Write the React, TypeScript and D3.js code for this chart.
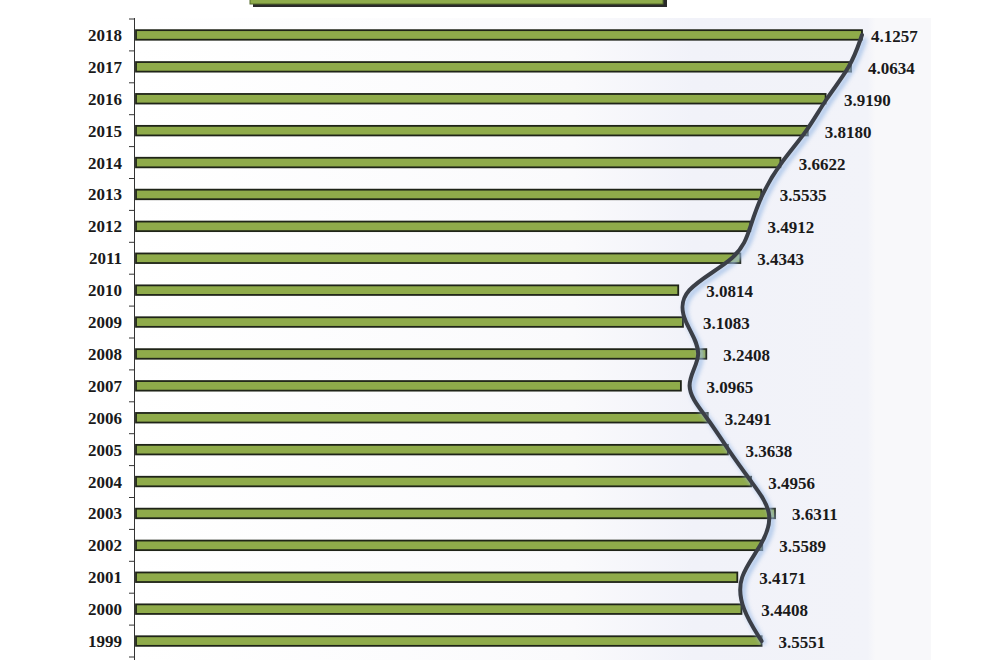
import { useEffect, useRef } from 'react';
import * as d3 from 'd3';

// years, top to bottom as drawn
const years = [
  '2018', '2017', '2016', '2015', '2014', '2013', '2012', '2011', '2010', '2009',
  '2008', '2007', '2006', '2005', '2004', '2003', '2002', '2001', '2000', '1999',
];
const values = [
  4.1257, 4.0634, 3.919, 3.818, 3.6622, 3.5535, 3.4912, 3.4343, 3.0814, 3.1083,
  3.2408, 3.0965, 3.2491, 3.3638, 3.4956, 3.6311, 3.5589, 3.4171, 3.4408, 3.5551,
];

const W = 990;
const H = 660;

export default function App() {
  const svgRef = useRef<SVGSVGElement>(null);

  useEffect(() => {
    if (!svgRef.current) return;
    const svg = d3.select(svgRef.current);
    svg.selectAll('*').remove();

    const data = years.map((y, i) => ({ year: y, value: values[i] }));

    const x = d3.scaleLinear().domain([0, 4.1257]).range([136, 862]);
    const y = d3.scaleBand<string>()
      .domain(years)
      .range([19, 657])
      .paddingInner(0.7)
      .paddingOuter(0.35);
    const cy = (d: string) => (y(d) || 0) + y.bandwidth() / 2;

    const defs = svg.append('defs');
    const bg = defs.append('linearGradient').attr('id', 'bg').attr('x1', 0).attr('x2', 1);
    bg.append('stop').attr('offset', '0%').attr('stop-color', '#ffffff');
    bg.append('stop').attr('offset', '55%').attr('stop-color', '#fafafc');
    bg.append('stop').attr('offset', '70%').attr('stop-color', '#f1f2f9');
    bg.append('stop').attr('offset', '92%').attr('stop-color', '#f2f3f9');
    bg.append('stop').attr('offset', '93%').attr('stop-color', '#f8f8fa');
    bg.append('stop').attr('offset', '100%').attr('stop-color', '#f8f8fa');

    const blur = defs.append('filter').attr('id', 'glow')
      .attr('x', '-20%').attr('y', '-20%').attr('width', '140%').attr('height', '140%');
    blur.append('feGaussianBlur').attr('stdDeviation', 2);

    svg.append('rect').attr('width', W).attr('height', H).attr('fill', '#ffffff');
    svg.append('rect')
      .attr('x', 136).attr('y', 18)
      .attr('width', 795).attr('height', 642)
      .attr('fill', 'url(#bg)');

    // legend box (cut off at top)
    svg.append('rect')
      .attr('x', 253).attr('y', -20).attr('width', 414).attr('height', 27)
      .attr('fill', '#2a2a2a');
    svg.append('rect')
      .attr('x', 250).attr('y', -22).attr('width', 413).attr('height', 26)
      .attr('fill', '#8fac4c').attr('stroke', '#556b2a').attr('stroke-width', 1);

    // axis
    const axis = svg.append('g');
    axis.append('line')
      .attr('x1', 134.5).attr('x2', 134.5).attr('y1', 18).attr('y2', 660)
      .attr('stroke', '#333').attr('stroke-width', 1);
    const edges = [...years.map(d => y(d)! - (y.step() * y.paddingInner()) / 2), 657];
    axis.selectAll('line.tick')
      .data(edges)
      .join('line')
      .attr('class', 'tick')
      .attr('x1', 129).attr('x2', 134.5)
      .attr('y1', d => d).attr('y2', d => d)
      .attr('stroke', '#333').attr('stroke-width', 1);
    axis.selectAll('text')
      .data(years)
      .join('text')
      .attr('x', 122)
      .attr('y', d => cy(d) + 6)
      .attr('text-anchor', 'end')
      .attr('font-family', '"Liberation Serif", "Times New Roman", serif')
      .attr('font-weight', 'bold')
      .attr('font-size', 17)
      .attr('fill', '#1a1a1a')
      .text(d => d);

    // bars
    svg.append('g')
      .selectAll('rect')
      .data(data)
      .join('rect')
      .attr('x', x(0))
      .attr('y', d => y(d.year)!)
      .attr('width', d => x(d.value) - x(0))
      .attr('height', y.bandwidth())
      .attr('fill', '#8fab4a')
      .attr('stroke', '#1f2418')
      .attr('stroke-width', 1.8);

    // trend line
    const line = d3.line<{ year: string; value: number }>()
      .x(d => x(d.value))
      .y(d => cy(d.year))
      .curve(d3.curveBasis);
    svg.append('path')
      .datum(data)
      .attr('d', line)
      .attr('transform', 'translate(3,3)')
      .attr('fill', 'none')
      .attr('stroke', '#9fbde6')
      .attr('stroke-width', 5)
      .attr('opacity', 0.8)
      .attr('filter', 'url(#glow)');
    svg.append('path')
      .datum(data)
      .attr('d', line)
      .attr('fill', 'none')
      .attr('stroke', '#3b3f47')
      .attr('stroke-width', 4)
      .attr('stroke-linecap', 'round');

    // value labels, kept right of bar end and the curve
    const curveX = (i: number) => {
      if (i === 0 || i === values.length - 1) return x(values[i]);
      return x((values[i - 1] + 4 * values[i] + values[i + 1]) / 6);
    };
    svg.append('g')
      .selectAll('text')
      .data(data)
      .join('text')
      .attr('x', (d, i) => Math.max(x(d.value), curveX(i)) + (i === 0 ? 9 : 17))
      .attr('y', d => cy(d.year) + 7)
      .attr('font-family', '"Liberation Serif", "Times New Roman", serif')
      .attr('font-weight', 'bold')
      .attr('font-size', 17)
      .attr('fill', '#1a1a1a')
      .text(d => d.value.toFixed(4));
  }, []);

  return (
    <svg
      ref={svgRef}
      width={W}
      height={H}
      style={{ position: 'absolute', left: 0, top: 0, display: 'block' }}
    />
  );
}
